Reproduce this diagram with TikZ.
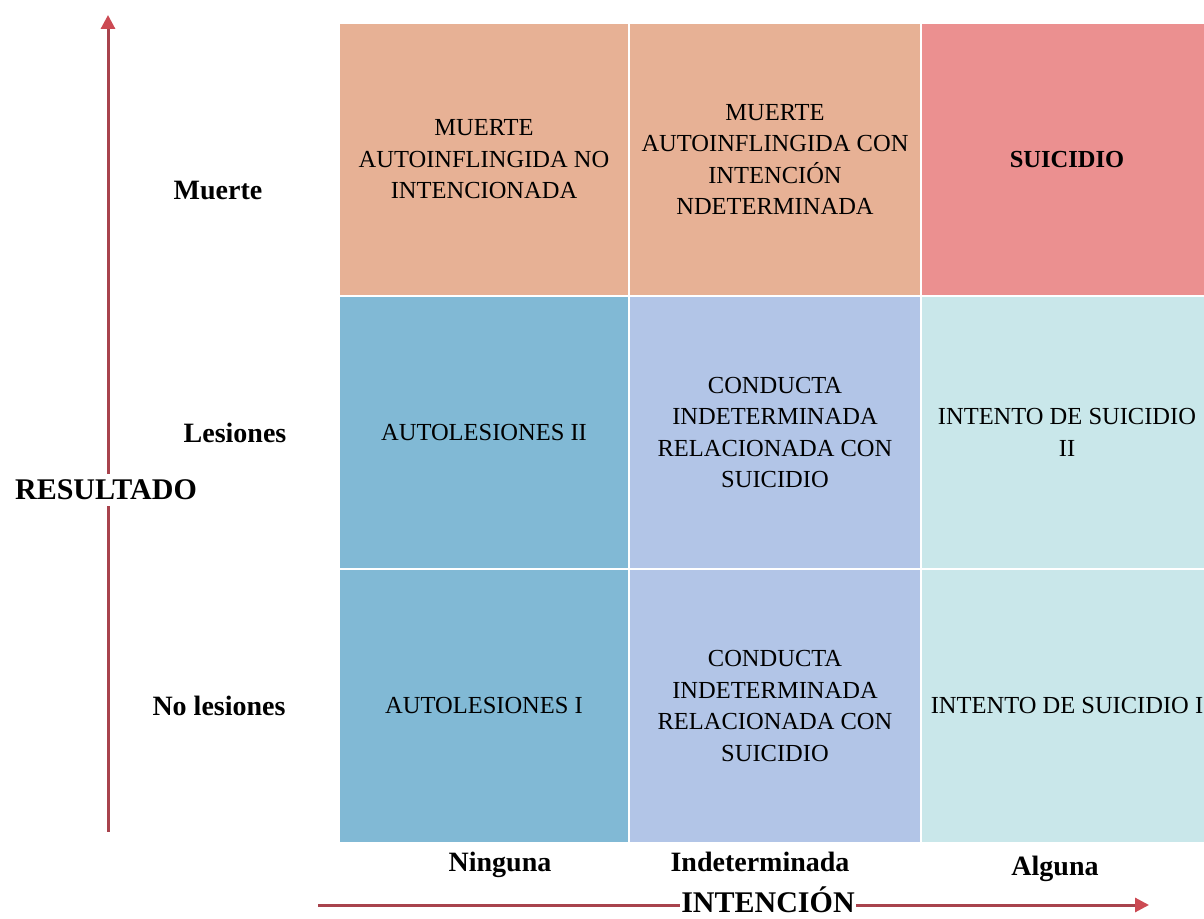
\documentclass[tikz,border=0pt]{standalone}
\usepackage{fontspec}
\setmainfont{Liberation Serif}
\usetikzlibrary{arrows.meta}
\definecolor{peach}{HTML}{E7B195}
\definecolor{rose}{HTML}{EB9090}
\definecolor{bluec}{HTML}{81B9D5}
\definecolor{lavc}{HTML}{B2C5E7}
\definecolor{cyanc}{HTML}{C9E7EA}
\definecolor{axisc}{HTML}{A8434D}
\definecolor{tipc}{HTML}{CC4A53}
\tikzset{
  cell/.style={draw=none, inner sep=0pt, align=center, text=black,
    font=\fontsize{24.5}{31.5}\selectfont, minimum height=271pt},
  w1/.style={minimum width=288pt},
  w2/.style={minimum width=290pt},
  lab/.style={font=\fontsize{28}{30}\bfseries\selectfont, anchor=base, inner sep=0pt},
  axisarrow/.style={draw=axisc, line width=3pt,
    -{Triangle[length=14pt,width=14pt,fill=tipc,color=tipc]}},
  axislab/.style={font=\fontsize{30}{32}\bfseries\selectfont, anchor=base, fill=white, inner xsep=1pt}
}
\begin{document}
\begin{tikzpicture}[x=1pt,y=1pt]
\useasboundingbox (0,0) rectangle (1204,918);
\fill[white] (0,0) rectangle (1204,918);
% cells
\node[cell,w1,fill=peach] (r1c1) at (484,758.5) {MUERTE\\AUTOINFLINGIDA NO\\INTENCIONADA};
\node[cell,w2,fill=peach] (r1c2) at (775,758.5) {MUERTE\\AUTOINFLINGIDA CON\\INTENCIÓN\\NDETERMINADA};
\node[cell,w2,fill=rose] (r1c3) at (1067,758.5) {\bfseries SUICIDIO};
\node[cell,w1,fill=bluec] (r2c1) at (484,485.5) {AUTOLESIONES II};
\node[cell,w2,fill=lavc] (r2c2) at (775,485.5) {CONDUCTA\\INDETERMINADA\\RELACIONADA CON\\SUICIDIO};
\node[cell,w2,fill=cyanc] (r2c3) at (1067,485.5) {INTENTO DE SUICIDIO\\II};
\node[cell,w1,fill=bluec,minimum height=272pt] (r3c1) at (484,212) {AUTOLESIONES I};
\node[cell,w2,fill=lavc,minimum height=272pt] (r3c2) at (775,212) {CONDUCTA\\INDETERMINADA\\RELACIONADA CON\\SUICIDIO};
\node[cell,w2,fill=cyanc,minimum height=272pt] (r3c3) at (1067,212) {INTENTO DE SUICIDIO I};
% row labels
\node[lab] (muerte) at (218,718) {Muerte};
\node[lab] (lesiones) at (235,475) {Lesiones};
\node[lab] (nolesiones) at (219,202) {No lesiones};
% column labels
\node[lab] (ninguna) at (500,47) {Ninguna};
\node[lab] (indet) at (760,47) {Indeterminada};
\node[lab] (alguna) at (1055,43) {Alguna};
% axes
\coordinate (vb) at (108,86);
\coordinate (vt) at (108,903);
\draw[axisarrow] (vb) -- (vt);
\coordinate (hl) at (318,13);
\coordinate (hr) at (1149,13);
\draw[axisarrow] (hl) -- (hr);
\node[axislab, inner ysep=6pt] (resultado) at (106,418) {RESULTADO};
\node[axislab, inner ysep=0pt] (intencion) at (768,6) {INTENCIÓN};
\end{tikzpicture}
\end{document}
